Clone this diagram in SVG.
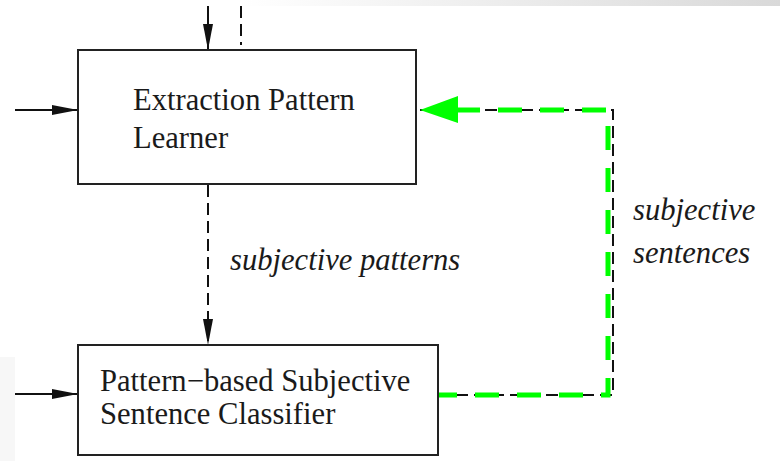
<svg xmlns="http://www.w3.org/2000/svg" width="780" height="461" viewBox="0 0 780 461">
<defs>
<linearGradient id="topg" x1="0" x2="1" y1="0" y2="0">
<stop offset="0" stop-color="#ffffff"/>
<stop offset="1" stop-color="#d9d9d9"/>
</linearGradient>
<marker id="ah" viewBox="0 0 26 10" refX="26" refY="5" markerWidth="26" markerHeight="10" markerUnits="userSpaceOnUse" orient="auto">
<path d="M0,0 L26,5 L0,10 Z" fill="#111"/>
</marker>
</defs>
<style>
.box{fill:#fff;stroke:#222;stroke-width:2}
.lbl{font-family:"Liberation Serif","Times New Roman",serif;font-size:30.6px;fill:#1a1a1a}
.it{font-family:"Liberation Serif","Times New Roman",serif;font-size:30.6px;font-style:italic;fill:#1a1a1a}
.solid{stroke:#111;stroke-width:2;fill:none}
.dash{stroke:#111;stroke-width:2;fill:none;stroke-dasharray:12 6}
.green{stroke:#00ff00;stroke-width:5;fill:none;stroke-dasharray:24 18}
</style>
<rect x="0" y="0" width="780" height="461" fill="#fff"/>
<rect x="240" y="0" width="540" height="6" fill="url(#topg)"/>
<rect x="0" y="357" width="15" height="104" fill="#f7f7f7"/>
<g id="connectors">
<line class="solid" x1="208" y1="6" x2="208" y2="50" marker-end="url(#ah)"/>
<line class="dash" x1="241" y1="6" x2="241" y2="45" stroke-dasharray="2 6 14 6 12 6"/>
<line class="solid" x1="15" y1="110" x2="78" y2="110" marker-end="url(#ah)"/>
<line class="solid" x1="15" y1="394" x2="78" y2="394" marker-end="url(#ah)"/>
<line class="dash" x1="208" y1="185" x2="208" y2="345" marker-end="url(#ah)"/>
<polyline class="dash" points="438,395 613,395 613,110 420,110"/>
<polyline class="green" points="433,395 608,395 608,110 458,110"/>
<path d="M420,110 L458,96 L458,123 Z" fill="#00ff00"/>
<text class="it" x="230" y="270">subjective patterns</text>
<text class="it" x="633" y="220">subjective</text>
<text class="it" x="633" y="263">sentences</text>
</g>
<g id="learner">
<rect class="box" x="78" y="50" width="338" height="134"/>
<text class="lbl" x="133" y="110">Extraction Pattern</text>
<text class="lbl" x="133" y="148">Learner</text>
</g>
<g id="classifier">
<rect class="box" x="78" y="345" width="360" height="110"/>
<text class="lbl" x="100" y="391">Pattern−based Subjective</text>
<text class="lbl" x="100" y="424">Sentence Classifier</text>
</g>
</svg>
